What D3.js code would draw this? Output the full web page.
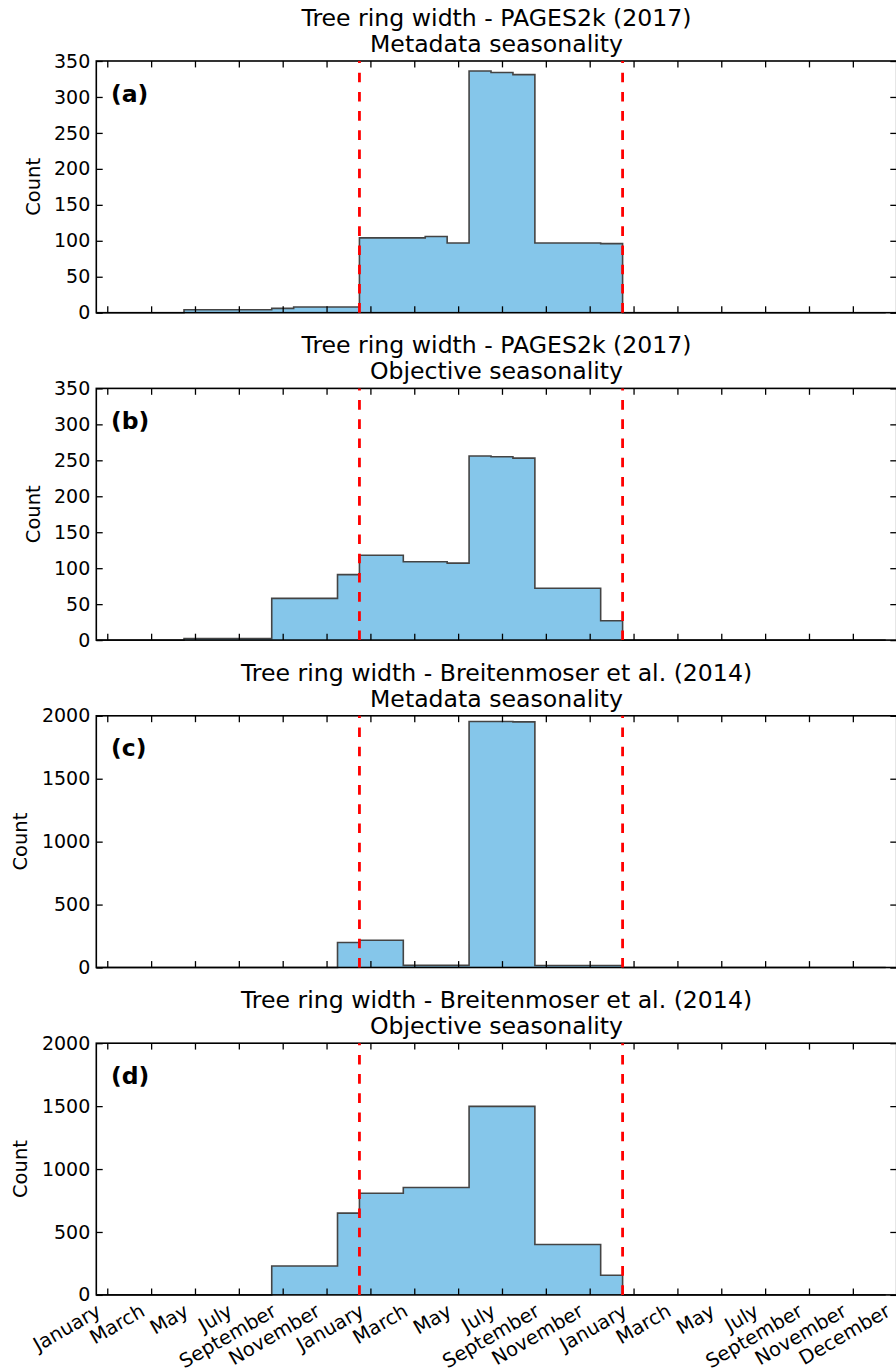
<!DOCTYPE html>
<html>
<head>
<meta charset="utf-8">
<script src="https://cdn.jsdelivr.net/npm/d3@7"></script>
<style>
body { margin: 0; background: #fff; }
text { font-family: "DejaVu Sans", sans-serif; }
</style>
</head>
<body>
<svg id="svg" width="896" height="1370"></svg>
<script>
// months run from January of the previous year (0) to December of the next year (35)
var tickMonths = [0, 2, 4, 6, 8, 10, 12, 14, 16, 18, 20, 22, 24, 26, 28, 30, 32, 34, 36];
var tickNames = ['January', 'March', 'May', 'July', 'September', 'November',
                 'January', 'March', 'May', 'July', 'September', 'November',
                 'January', 'March', 'May', 'July', 'September', 'November', 'December'];

// monthly counts
var pagesMetadata = [0, 0, 0, 0, 4, 4, 4, 4, 6, 8, 8, 8,
                     104, 104, 104, 106, 97, 336, 334, 331, 97, 97, 97, 96,
                     0, 0, 0, 0, 0, 0, 0, 0, 0, 0, 0, 0];
var pagesObjective = [0, 0, 0, 0, 2, 2, 2, 2, 58, 58, 58, 91,
                      118, 118, 109, 109, 107, 256, 255, 253, 72, 72, 72, 27,
                      0, 0, 0, 0, 0, 0, 0, 0, 0, 0, 0, 0];
var breitMetadata = [0, 0, 0, 0, 0, 0, 0, 0, 0, 0, 0, 199,
                     217, 217, 17, 17, 17, 1955, 1955, 1952, 16, 16, 16, 16,
                     0, 0, 0, 0, 0, 0, 0, 0, 0, 0, 0, 0];
var breitObjective = [0, 0, 0, 0, 0, 0, 0, 0, 230, 230, 230, 650,
                      808, 808, 853, 853, 853, 1498, 1498, 1498, 401, 401, 401, 156,
                      0, 0, 0, 0, 0, 0, 0, 0, 0, 0, 0, 0];

var seasonEdges = [11.5, 23.5];

var titles = ['Tree ring width - PAGES2k (2017)', 'Tree ring width - PAGES2k (2017)',
              'Tree ring width - Breitenmoser et al. (2014)', 'Tree ring width - Breitenmoser et al. (2014)'];
var subtitles = ['Metadata seasonality', 'Objective seasonality', 'Metadata seasonality', 'Objective seasonality'];
var letters = ['(a)', '(b)', '(c)', '(d)'];
var yMax = [350, 350, 2000, 2000];
var yStep = [50, 50, 500, 500];
var series = [pagesMetadata, pagesObjective, breitMetadata, breitObjective];

var svg = d3.select('svg');

var left = 96.3, right = 896.7;
var panelH = 251.7;
var tick = 6.4;

var x = d3.scaleLinear()
    .domain([-0.5, 36])
    .range([left, right]);

function drawPanel(i) {
    var top = 61 + i * 327.4;
    var bottom = top + panelH;
    var data = series[i];

    var y = d3.scaleLinear()
        .domain([0, yMax[i]])
        .range([bottom, top]);

    var g = svg.append('g');

    // histogram as steps, one bin per month
    var steps = data.map(function(v, k){ return {x0: k - 0.5, v: v}; });
    steps.push({x0: 35.5, v: data[35]});

    var area = d3.area()
        .curve(d3.curveStepAfter)
        .x(function(d){ return x(d.x0); })
        .y0(y(0))
        .y1(function(d){ return y(d.v); });

    var line = d3.line()
        .curve(d3.curveStepAfter)
        .x(function(d){ return x(d.x0); })
        .y(function(d){ return y(d.v); });

    g.append('path')
        .datum(steps)
        .attr('d', area)
        .attr('fill', '#85c6ea');

    g.append('path')
        .datum(steps)
        .attr('d', line)
        .attr('fill', 'none')
        .attr('stroke', '#444')
        .attr('stroke-width', 1.6);

    // axes, ticks pointing inwards on all four sides
    var yTicks = d3.range(0, yMax[i] + 1, yStep[i]);

    var yAxis = g.append('g')
        .attr('transform', 'translate(' + left + ',0)')
        .call(d3.axisLeft(y).tickValues(yTicks).tickSize(-tick).tickPadding(6).tickFormat(d3.format('d')));
    yAxis.select('.domain').remove();
    yAxis.selectAll('text').attr('font-size', 19).attr('fill', '#000').style('font-family', 'DejaVu Sans');
    yAxis.selectAll('line').attr('stroke', '#000').attr('stroke-width', 1.3);

    var yRight = g.append('g')
        .attr('transform', 'translate(' + right + ',0)')
        .call(d3.axisRight(y).tickValues(yTicks).tickSize(-tick).tickFormat(''));
    yRight.select('.domain').remove();
    yRight.selectAll('line').attr('stroke', '#000').attr('stroke-width', 1.3);

    var xTop = g.append('g')
        .attr('transform', 'translate(0,' + top + ')')
        .call(d3.axisTop(x).tickValues(tickMonths).tickSize(-tick).tickFormat(''));
    xTop.select('.domain').remove();
    xTop.selectAll('line').attr('stroke', '#000').attr('stroke-width', 1.3);

    var xBottom = g.append('g')
        .attr('transform', 'translate(0,' + bottom + ')')
        .call(d3.axisBottom(x).tickValues(tickMonths).tickSize(-tick).tickFormat(''));
    xBottom.select('.domain').remove();
    xBottom.selectAll('line').attr('stroke', '#000').attr('stroke-width', 1.3);

    g.append('rect')
        .attr('x', left)
        .attr('y', top)
        .attr('width', right - left)
        .attr('height', panelH)
        .attr('fill', 'none')
        .attr('stroke', '#000')
        .attr('stroke-width', 1.6);

    // season limits
    g.selectAll('.season')
        .data(seasonEdges)
        .enter()
        .append('line')
        .attr('x1', function(d){ return x(d); })
        .attr('x2', function(d){ return x(d); })
        .attr('y1', bottom)
        .attr('y2', top)
        .attr('stroke', 'red')
        .attr('stroke-width', 2.8)
        .attr('stroke-dasharray', '9.6,9.6');

    // titles
    g.append('text')
        .text(titles[i])
        .attr('x', (left + right) / 2)
        .attr('y', top - 35)
        .attr('text-anchor', 'middle')
        .attr('font-size', 23.6);

    g.append('text')
        .text(subtitles[i])
        .attr('x', (left + right) / 2)
        .attr('y', top - 9.3)
        .attr('text-anchor', 'middle')
        .attr('font-size', 23.6);

    g.append('text')
        .text(letters[i])
        .attr('x', 111)
        .attr('y', top + 40.5)
        .attr('font-size', 23.5)
        .attr('font-weight', 'bold');

    // y label sits left of the widest tick label
    var widest = d3.max(yAxis.selectAll('text').nodes(), function(n){ return n.getBBox().width; });
    g.append('text')
        .text('Count')
        .attr('transform', 'translate(' + (left - 6 - widest - 14.5) + ',' + (top + panelH / 2) + ') rotate(-90)')
        .attr('text-anchor', 'middle')
        .attr('font-size', 19.5);

    if (i == 3) {
        g.selectAll('.month')
            .data(tickMonths)
            .enter()
            .append('text')
            .text(function(d, k){ return tickNames[k]; })
            .attr('transform', function(d){ return 'translate(' + (x(d) - 5) + ',' + (bottom + 20) + ') rotate(-30)'; })
            .attr('text-anchor', 'end')
            .attr('font-size', 19.5);
    }
}

for (var i = 0; i < 4; i++) {
    drawPanel(i);
}
</script>
</body>
</html>
